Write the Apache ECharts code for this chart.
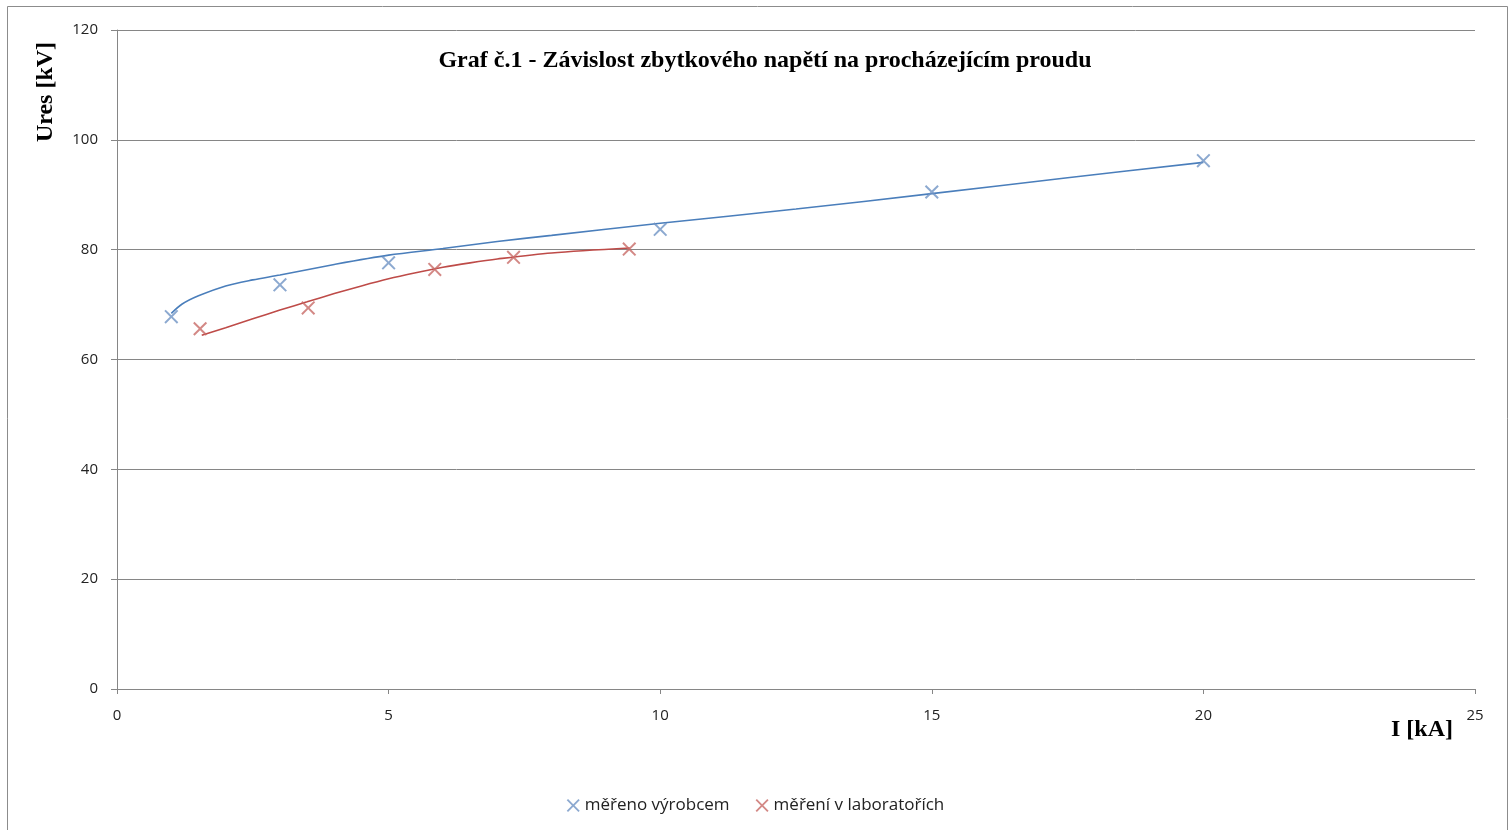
<!DOCTYPE html>
<html>
<head>
<meta charset="utf-8">
<script src="https://cdn.jsdelivr.net/npm/echarts@6/dist/echarts.min.js"></script>
<style>
html,body{margin:0;padding:0;background:#fff;}
#chart{width:1511px;height:830px;}
</style>
</head>
<body>
<div id="chart"></div>
<script>
// Measured points
const makerName = 'měřeno výrobcem';
const labName = 'měření v laboratořích';
const makerI = [1, 3, 5, 10, 15, 20];
const makerU = [67.8, 73.6, 77.6, 83.7, 90.5, 96.2];
const labI = [1.53, 3.52, 5.85, 7.3, 9.43];
const labU = [65.6, 69.4, 76.4, 78.6, 80.1];

// Trend lines
const makerTrendI = [1.0, 1.2, 1.5, 2.0, 2.5, 3.0, 4.0, 5.0, 6.0, 7.0, 8.0, 10.0, 12.5, 15.0, 17.5, 20.0];
const makerTrendU = [68.4, 70.1, 71.6, 73.4, 74.5, 75.4, 77.3, 79.0, 80.2, 81.5, 82.6, 84.8, 87.4, 90.2, 93.1, 95.9];
const labTrendI = [1.56, 2.0, 2.5, 3.0, 3.5, 4.0, 4.5, 5.0, 5.5, 6.0, 6.5, 7.0, 8.0, 9.44];
const labTrendU = [64.4, 65.8, 67.4, 69.0, 70.5, 72.0, 73.4, 74.7, 75.8, 76.8, 77.6, 78.3, 79.4, 80.3];

const xTicks = [0, 5, 10, 15, 20, 25];
const yTicks = [0, 20, 40, 60, 80, 100, 120];

const titleText = 'Graf č.1 - Závislost zbytkového napětí na procházejícím proudu';
const yName = 'Ures [kV]';
const xName = 'I [kA]';

const blue = '#4A7EBB';
const red = '#BE4B48';
const blueMark = '#6F93C4';
const redMark = '#C86A67';
const cross = 'path://M1,0 L5,4 L9,0 L10,1 L6,5 L10,9 L9,10 L5,6 L1,10 L0,9 L4,5 L0,1 Z';

function zip(a, b) { return a.map((v, i) => [v, b[i]]); }

const chart = echarts.init(document.getElementById('chart'), null, {renderer: 'canvas'});
chart.setOption({
  animation: false,
  backgroundColor: '#fff',
  grid: {left: 117, right: 36, top: 30, bottom: 141, containLabel: false},
  title: {
    text: titleText, left: 760, textAlign: 'center', top: 44,
    textStyle: {fontFamily: 'Liberation Serif', fontWeight: 'bold', fontSize: 24, color: '#000'}
  },
  legend: {
    data: [makerName, labName],
    top: 792, left: 'center', itemGap: 26, itemWidth: 13, itemHeight: 13,
    icon: cross,
    textStyle: {fontFamily: 'Open Sans', fontSize: 17, color: '#222'}
  },
  xAxis: {
    type: 'value', min: xTicks[0], max: xTicks[xTicks.length - 1], interval: 5,
    axisLine: {lineStyle: {color: '#868686', width: 1}},
    axisTick: {show: true, inside: false, length: 5, lineStyle: {color: '#868686'}},
    axisLabel: {margin: 19, fontFamily: 'Open Sans', fontSize: 15, color: '#222'},
    splitLine: {show: false}
  },
  yAxis: {
    type: 'value', min: yTicks[0], max: yTicks[yTicks.length - 1], interval: 20,
    axisLine: {show: true, lineStyle: {color: '#868686', width: 1}},
    axisTick: {show: true, inside: false, length: 6, lineStyle: {color: '#868686'}},
    axisLabel: {margin: 19, fontFamily: 'Open Sans', fontSize: 15, color: '#222'},
    splitLine: {show: true, lineStyle: {color: '#868686', width: 1}}
  },
  graphic: [
    {type: 'rect', silent: true, z: -1,
      shape: {x: 7.5, y: 6.5, width: 1500, height: 900},
      style: {fill: 'none', stroke: '#8c8c8c', lineWidth: 1}},
    {type: 'text', rotation: Math.PI / 2, x: 46, y: 92,
      style: {text: yName, fontFamily: 'Liberation Serif', fontWeight: 'bold', fontSize: 24,
        fill: '#000', align: 'center', verticalAlign: 'middle'}},
    {type: 'text', x: 1422, y: 730,
      style: {text: xName, fontFamily: 'Liberation Serif', fontWeight: 'bold', fontSize: 24,
        fill: '#000', align: 'center', verticalAlign: 'middle'}}
  ],
  series: [
    {name: makerName + ' trend', type: 'line', data: zip(makerTrendI, makerTrendU),
      showSymbol: false, smooth: 0.3, lineStyle: {color: blue, width: 1.6}, z: 2, silent: true},
    {name: labName + ' trend', type: 'line', data: zip(labTrendI, labTrendU),
      showSymbol: false, smooth: 0.3, lineStyle: {color: red, width: 1.6}, z: 2, silent: true},
    {name: makerName, type: 'scatter', data: zip(makerI, makerU),
      symbol: cross, symbolSize: 14, itemStyle: {color: blueMark}, z: 3},
    {name: labName, type: 'scatter', data: zip(labI, labU),
      symbol: cross, symbolSize: 14, itemStyle: {color: redMark}, z: 3}
  ]
});
</script>
</body>
</html>
